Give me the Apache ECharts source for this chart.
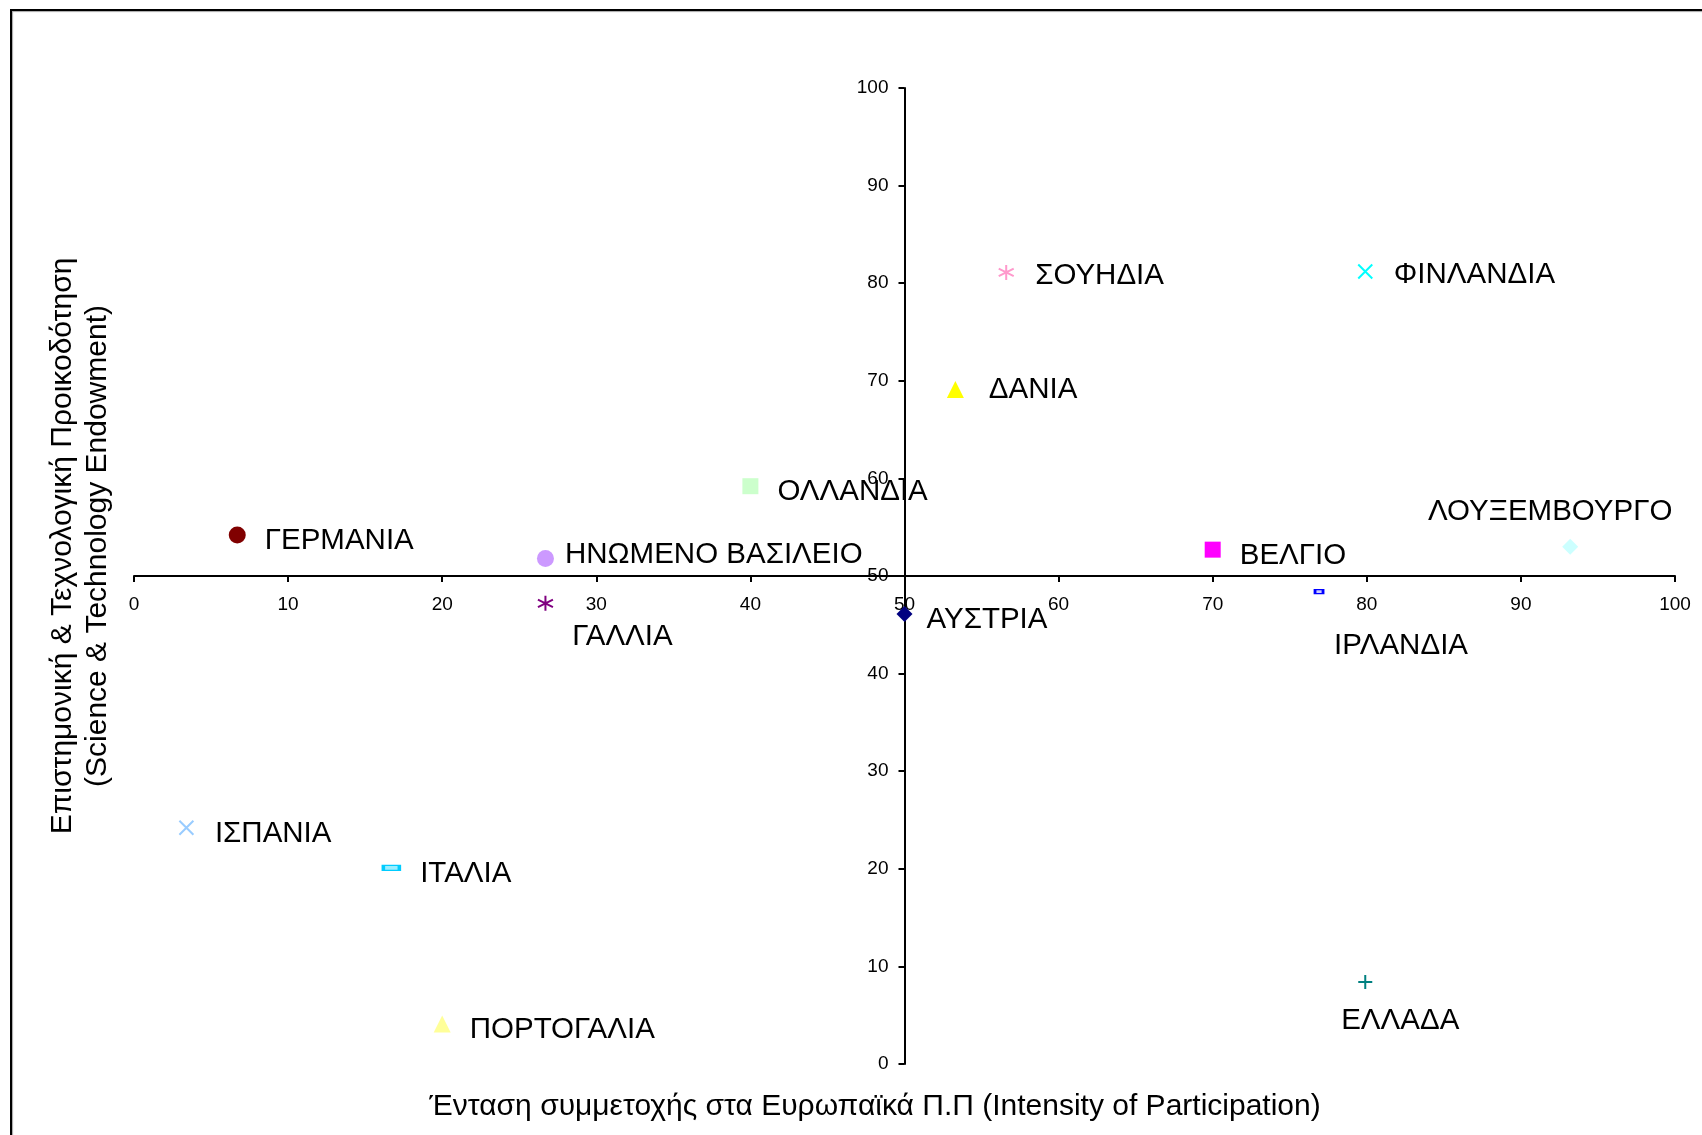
<!DOCTYPE html>
<html>
<head>
<meta charset="utf-8">
<script src="https://cdn.jsdelivr.net/npm/echarts@6/dist/echarts.min.js"></script>
<style>
  html, body { margin: 0; padding: 0; background: #fff; }
  #chart { width: 1702px; height: 1135px; }
</style>
</head>
<body>
<div id="chart"></div>
<script>
// country names, values (x = intensity of participation, y = S&T endowment)
var countries = ['ΓΕΡΜΑΝΙΑ', 'ΗΝΩΜΕΝΟ ΒΑΣΙΛΕΙΟ', 'ΓΑΛΛΙΑ', 'ΟΛΛΑΝΔΙΑ', 'ΔΑΝΙΑ', 'ΣΟΥΗΔΙΑ',
  'ΦΙΝΛΑΝΔΙΑ', 'ΑΥΣΤΡΙΑ', 'ΒΕΛΓΙΟ', 'ΛΟΥΞΕΜΒΟΥΡΓΟ', 'ΙΡΛΑΝΔΙΑ', 'ΙΣΠΑΝΙΑ',
  'ΙΤΑΛΙΑ', 'ΠΟΡΤΟΓΑΛΙΑ', 'ΕΛΛΑΔΑ'];
var participation = [6.7, 26.7, 26.7, 40.0, 53.3, 56.6, 79.9, 50.0, 70.0, 93.2, 76.9, 3.4, 16.7, 20.0, 79.9];
var endowment = [54.2, 51.8, 47.2, 59.2, 69.1, 81.1, 81.2, 46.1, 52.7, 53.0, 48.4, 24.2, 20.1, 4.1, 8.4];
var xTicks = [0, 10, 20, 30, 40, 50, 60, 70, 80, 90, 100];
var yTicks = [0, 10, 20, 30, 40, 50, 60, 70, 80, 90, 100];

var gridLeft = 134, gridRight = 27, gridTop = 88, gridBottom = 71;
var gridW = 1702 - gridLeft - gridRight;
var gridH = 1135 - gridTop - gridBottom;
var FONT = 'Liberation Sans, Arial, sans-serif';

var starPath = 'path://M5,0L5,10M0.7,2.5L9.3,7.5M9.3,2.5L0.7,7.5';
var crossPath = 'path://M0,0L10,10M10,0L0,10';
var plusPath = 'path://M5,0L5,10M0,5L10,5';

// marker look per country
var markers = [
  { symbol: 'circle', size: 17, color: '#800000' },
  { symbol: 'circle', size: 17, color: '#CC99FF' },
  { symbol: starPath, size: 15, color: 'none', border: '#800080' },
  { symbol: 'rect', size: 16, color: '#CCFFCC' },
  { symbol: 'triangle', size: 17, color: '#FFFF00' },
  { symbol: starPath, size: 15, color: 'none', border: '#FF99CC' },
  { symbol: crossPath, size: 14, color: 'none', border: '#00FFFF' },
  { symbol: 'diamond', size: 16, color: '#000080' },
  { symbol: 'rect', size: 16, color: '#FF00FF' },
  { symbol: 'diamond', size: 16, color: '#CCFFFF' },
  { symbol: 'rect', size: [8, 4], color: '#CCCCFF', border: '#0000FF', bw: 2 },
  { symbol: crossPath, size: 14, color: 'none', border: '#99CCFF' },
  { symbol: 'rect', size: [16, 5], color: '#99EEFF', border: '#00CCFF', bw: 2 },
  { symbol: 'triangle', size: 17, color: '#FFFF99' },
  { symbol: plusPath, size: 14, color: 'none', border: '#008080' }
];

// label placement tweaks
var labelPos = {
  'ΗΝΩΜΕΝΟ ΒΑΣΙΛΕΙΟ': { position: 'right', offset: [-6, -4] },
  'ΓΑΛΛΙΑ': { position: 'bottom', offset: [77, -8] },
  'ΔΑΝΙΑ': { position: 'right', offset: [8, 0] },
  'ΣΟΥΗΔΙΑ': { position: 'right', offset: [2, 3] },
  'ΦΙΝΛΑΝΔΙΑ': { position: 'right', offset: [2, 3] },
  'ΑΥΣΤΡΙΑ': { position: 'right', offset: [-3, 6] },
  'ΛΟΥΞΕΜΒΟΥΡΓΟ': { position: 'top', offset: [-20, 5] },
  'ΙΡΛΑΝΔΙΑ': { position: 'bottom', offset: [82, 20] },
  'ΕΛΛΑΔΑ': { position: 'bottom', offset: [35, -3] }
};

var seriesData = countries.map(function (name, i) {
  var m = markers[i];
  var lp = labelPos[name] || { position: 'right', offset: [2, 6] };
  return {
    name: name,
    value: [participation[i], endowment[i]],
    symbol: m.symbol,
    symbolSize: m.size,
    itemStyle: {
      color: m.color,
      opacity: 1,
      borderColor: m.border || m.color,
      borderWidth: m.border ? (m.bw || 2) : 0
    },
    label: {
      show: true,
      formatter: name,
      position: lp.position,
      offset: lp.offset,
      distance: 17,
      color: '#000',
      fontSize: 29.5,
      fontFamily: FONT
    }
  };
});

var chart = echarts.init(document.getElementById('chart'), null, { renderer: 'canvas' });

chart.setOption({
  backgroundColor: '#fff',
  animation: false,
  grid: { left: gridLeft, right: gridRight, top: gridTop, bottom: gridBottom, containLabel: false },
  xAxis: {
    type: 'value',
    min: xTicks[0], max: xTicks[xTicks.length - 1], interval: 10,
    position: 'bottom',
    offset: -gridH / 2,
    axisLine: { onZero: false, lineStyle: { color: '#000', width: 2 } },
    axisTick: { show: true, length: 6, lineStyle: { color: '#000', width: 2 } },
    axisLabel: { margin: 19, color: '#000', fontSize: 19, fontFamily: FONT },
    splitLine: { show: false }
  },
  yAxis: {
    type: 'value',
    min: yTicks[0], max: yTicks[yTicks.length - 1], interval: 10,
    position: 'left',
    offset: -gridW / 2,
    axisLine: { onZero: false, lineStyle: { color: '#000', width: 2 } },
    axisTick: { show: true, length: 6, lineStyle: { color: '#000', width: 2 } },
    axisLabel: { margin: 16, color: '#000', fontSize: 19, fontFamily: FONT },
    splitLine: { show: false }
  },
  series: [{
    type: 'scatter',
    data: seriesData
  }],
  graphic: [
    {
      type: 'rect', silent: true, z: -1,
      shape: { x: 11, y: 10, width: 1760, height: 1200 },
      style: { fill: 'none', stroke: '#000', lineWidth: 2, shadowColor: 'rgba(0,0,0,0.35)', shadowOffsetX: 1, shadowOffsetY: 1, shadowBlur: 1 }
    },
    {
      type: 'text', x: 875, y: 1107,
      style: {
        text: 'Ένταση συμμετοχής στα Ευρωπαϊκά Π.Π (Intensity of Participation)',
        fill: '#000', fontSize: 30, align: 'center', verticalAlign: 'middle', fontFamily: FONT
      }
    },
    {
      type: 'text', x: 80, y: 546, rotation: Math.PI / 2,
      style: {
        text: 'Επιστημονική & Τεχνολογική Προικοδότηση\n(Science & Technology Endowment)',
        fill: '#000', fontSize: 30, lineHeight: 35, align: 'center', verticalAlign: 'middle',
        fontFamily: FONT
      }
    }
  ]
});
</script>
</body>
</html>
